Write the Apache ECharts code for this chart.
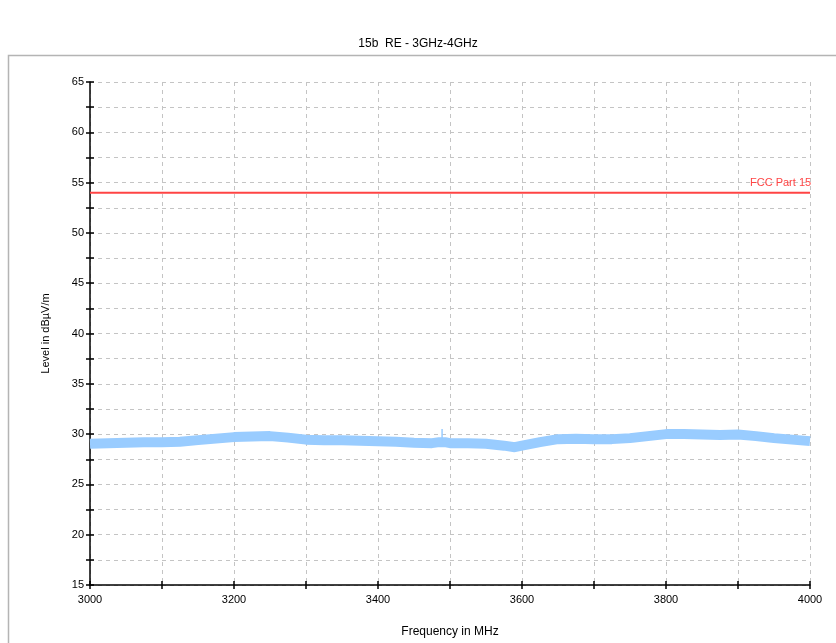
<!DOCTYPE html>
<html><head><meta charset="utf-8">
<script src="https://cdn.jsdelivr.net/npm/echarts@6/dist/echarts.min.js"></script>
<style>html,body{margin:0;padding:0;background:#fff}#c{width:836px;height:643px}</style>
</head><body><div id="c"></div>
<script>
var freqs = [3000,3025,3050,3075,3100,3125,3150,3175,3200,3225,3250,3275,3300,3325,3350,3375,3400,3425,3450,3475,3485,3493,3500,3525,3550,3575,3590,3600,3625,3650,3675,3700,3725,3750,3775,3800,3825,3850,3875,3900,3925,3950,3975,4000];
var levels = [29.05,29.1,29.15,29.2,29.2,29.25,29.4,29.55,29.7,29.75,29.8,29.65,29.45,29.4,29.4,29.35,29.3,29.25,29.15,29.1,29.2,29.2,29.1,29.1,29.05,28.85,28.7,28.85,29.2,29.5,29.55,29.5,29.5,29.6,29.8,30.0,30.0,29.95,29.9,29.95,29.8,29.6,29.45,29.3];
var spikeFreq = [3489,3489];
var spikeLevel = [29.3,30.5];
var limitFreq = [3000,4000];
var limitLevel = [54,54];
var xTicks = [3000,3200,3400,3600,3800,4000];
var yTicks = [15,20,25,30,35,40,45,50,55,60,65];

function pairs(a,b){return a.map(function(v,i){return [v,b[i]];});}
var font = 'Liberation Sans, Arial, sans-serif';
var chart = echarts.init(document.getElementById('c'));
chart.setOption({
  animation:false,
  title:{text:'15b  RE - 3GHz-4GHz',left:'center',top:33,textStyle:{fontSize:12,fontWeight:'normal',color:'#000',fontFamily:font}},
  graphic:[{type:'rect',shape:{x:8.5,y:55.5,width:840,height:620},style:{fill:'none',stroke:'#b4b4b4',lineWidth:1.5},z:-1}],
  grid:{left:90,right:26,top:82,bottom:55},
  xAxis:[{type:'value',min:3000,max:4000,interval:100,
    name:'Frequency in MHz',nameLocation:'middle',nameGap:41,nameTextStyle:{fontSize:12,color:'#000',fontFamily:font},
    axisLine:{lineStyle:{color:'#000',width:1.5}},
    axisTick:{length:4,lineStyle:{color:'#000',width:1.5}},
    axisLabel:{color:'#000',fontSize:11,fontFamily:font,margin:9,formatter:function(v){return xTicks.indexOf(v)>=0?String(v):'';}},
    splitLine:{show:true,lineStyle:{color:'#c4c4c4',type:[4,4],width:1}}},
   {type:'value',min:3000,max:4000,interval:100,position:'bottom',
    axisLine:{show:false},axisTick:{inside:true,length:4,lineStyle:{color:'#000',width:1.5}},axisLabel:{show:false},splitLine:{show:false}}],
  yAxis:[{type:'value',min:15,max:65,interval:2.5,
    name:'Level in dBµV/m',nameLocation:'middle',nameGap:39,nameTextStyle:{fontSize:11,color:'#000',fontFamily:font},
    axisLine:{show:true,lineStyle:{color:'#000',width:1.5}},
    axisTick:{show:true,length:4,lineStyle:{color:'#000',width:1.5}},
    axisLabel:{color:'#000',fontSize:11,fontFamily:font,margin:6,formatter:function(v){return yTicks.indexOf(v)>=0?String(v):'';}},
    splitLine:{show:true,lineStyle:{color:'#c4c4c4',type:[4,4],width:1}}},
   {type:'value',min:15,max:65,interval:2.5,position:'left',
    axisLine:{show:false},axisTick:{show:true,inside:true,length:4,lineStyle:{color:'#000',width:1.5}},axisLabel:{show:false},splitLine:{show:false}}],
  series:[
    {type:'line',data:pairs(freqs,levels),showSymbol:false,symbol:'none',lineStyle:{color:'#99ccff',width:10,cap:'butt'},z:3},
    {type:'line',data:pairs(spikeFreq,spikeLevel),showSymbol:false,symbol:'none',lineStyle:{color:'#99ccff',width:1.5},z:3},
    {type:'line',data:pairs(limitFreq,limitLevel),showSymbol:false,symbol:'none',lineStyle:{color:'#ff4444',width:2},z:4,
     endLabel:{show:true,formatter:'FCC Part 15',color:'#ff4444',fontSize:11,fontFamily:font,offset:[-68,-10]}}
  ]
});
</script></body></html>
